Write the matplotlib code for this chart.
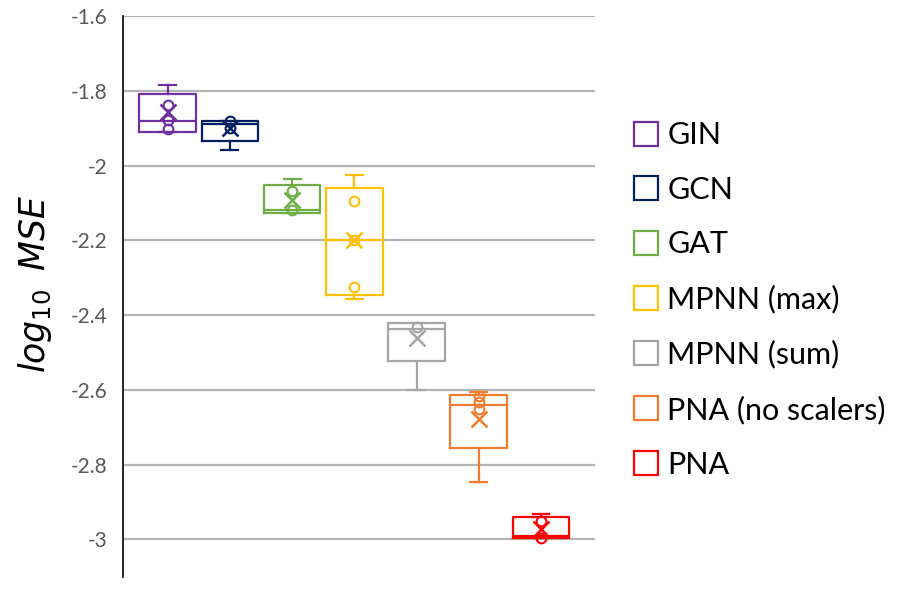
import matplotlib
matplotlib.use("Agg")
import matplotlib.pyplot as plt
from matplotlib.lines import Line2D

plt.rcParams['font.family'] = ['Lato', 'DejaVu Sans']

# Data (log10 MSE)
models = ['GIN', 'GCN', 'GAT', 'MPNN (max)', 'MPNN (sum)', 'PNA (no scalers)', 'PNA']
colors = ['#7030A0', '#002060', '#70AD47', '#FFC000', '#A5A5A5', '#ED7D31', '#FF0000']
q1 = [-1.909, -1.934, -2.126, -2.345, -2.523, -2.756, -2.995]
med = [-1.882, -1.889, -2.120, -2.198, -2.438, -2.640, -2.990]
q3 = [-1.808, -1.880, -2.051, -2.059, -2.422, -2.614, -2.941]
whislo = [-1.910, -1.958, -2.126, -2.358, -2.600, -2.847, -2.995]
whishi = [-1.784, -1.880, -2.035, -2.025, -2.422, -2.607, -2.932]
means = [-1.856, -1.899, -2.091, -2.200, -2.460, -2.679, -2.973]
inner_pts = [
    [-1.838, -1.878, -1.902],
    [-1.882, -1.900],
    [-2.069, -2.118],
    [-2.094, -2.200, -2.324],
    [-2.433],
    [-2.617, -2.633, -2.652],
    [-2.950, -2.997],
]

fig = plt.figure(figsize=(9.1, 5.94), dpi=100)
ax = fig.add_axes([0.135, 0.029, 0.519, 0.944])

stats = []
for i, m in enumerate(models):
    stats.append(dict(label=m, q1=q1[i], med=med[i], q3=q3[i],
                      whislo=whislo[i], whishi=whishi[i], mean=means[i], fliers=[]))

for i, s in enumerate(stats):
    c = colors[i]
    lp = dict(color=c, linewidth=1.6)
    ax.bxp([s], positions=[i], widths=0.91, capwidths=0.27, showmeans=False,
           showfliers=False, boxprops=lp, medianprops=lp, whiskerprops=lp,
           capprops=lp, manage_ticks=False, zorder=3)
    ax.plot([i] * len(inner_pts[i]), inner_pts[i], 'o', mfc='none', mec=c,
            mew=1.5, ms=7, zorder=4)
    ax.plot([i], [means[i]], 'x', color=c, mew=1.8, ms=11, zorder=4)

ax.set_xlim(-0.72, 6.87)
ax.set_ylim(-3.1, -1.6)
ax.set_yticks([-1.6, -1.8, -2.0, -2.2, -2.4, -2.6, -2.8, -3.0])
ax.set_yticklabels(['-1.6', '-1.8', '-2', '-2.2', '-2.4', '-2.6', '-2.8', '-3'])
ax.tick_params(axis='y', length=0, pad=11, labelsize=15, labelcolor='#595959')
ax.set_xticks([])
ax.grid(axis='y', color='#B4B4B4', linewidth=1.6, zorder=0)
ax.set_axisbelow(True)
for sp in ['top', 'right', 'bottom']:
    ax.spines[sp].set_visible(False)
ax.spines['left'].set_color('black')
ax.spines['left'].set_linewidth(1.2)
ax.set_ylabel(r'$\mathit{log}_{\mathit{10}}$  $\mathit{MSE}$', fontsize=25,
              labelpad=12, y=0.522)

handles = [Line2D([], [], marker='s', linestyle='none', mfc='none', mec=c,
                  mew=1.6, ms=17) for c in colors]
fig.legend(handles, models, loc='center left', bbox_to_anchor=(0.663, 0.495),
           frameon=False, fontsize=22, labelspacing=0.87, handletextpad=0.2,
           handlelength=1.0)

fig.savefig('out.png', dpi=100)
